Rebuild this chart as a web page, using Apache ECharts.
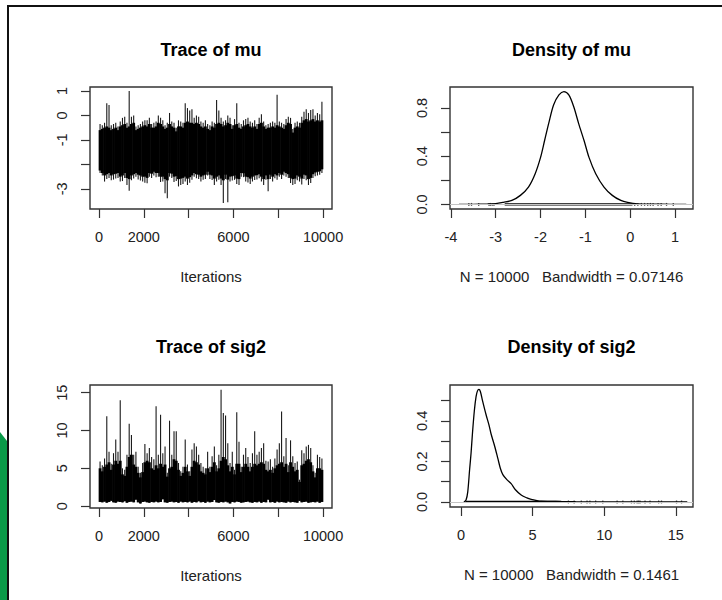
<!DOCTYPE html>
<html><head><meta charset="utf-8">
<script src="https://cdn.jsdelivr.net/npm/echarts@6/dist/echarts.min.js"></script>
<style>html,body{margin:0;padding:0;background:#fff}#c{width:722px;height:600px}</style>
</head><body><div id="c"></div>
<script>
// ---------- data ----------
const titles = ['Trace of mu', 'Density of mu', 'Trace of sig2', 'Density of sig2'];
const xLabels = ['Iterations', 'N = 10000   Bandwidth = 0.07146', 'Iterations', 'N = 10000   Bandwidth = 0.1461'];

// trace plots, per block of 100 iterations:
//   High/Low = extreme sampled values, CoreHigh/CoreLow = edges of the solid black bulk
const binSize = 100;
const muTraceHigh = [
 -0.35,-0.4,-0.3,0.5,0.43,-0.4,-0.35,-0.3,-0.45,-0.25,
 -0.1,-0.05,-0.3,1.0,-0.05,0.0,-0.45,-0.4,-0.35,-0.25,
 -0.2,-0.2,-0.1,-0.35,-0.3,-0.25,0.0,-0.1,-0.2,-0.4,
 -0.3,0.1,-0.25,-0.3,-0.5,-0.2,-0.25,-0.3,0.5,0.3,
 0.2,0.25,-0.1,0.0,-0.05,-0.25,-0.3,-0.2,-0.35,-0.4,
 -0.25,-0.3,0.63,0.2,-0.1,-0.25,-0.2,0.0,-0.1,-0.4,
 -0.15,0.5,-0.3,-0.35,-0.2,-0.15,-0.1,-0.25,-0.3,-0.2,
 -0.35,-0.1,0.05,-0.25,-0.4,-0.35,-0.3,-0.25,-0.3,0.84,
 -0.25,-0.3,-0.35,-0.15,-0.05,-0.1,-0.55,-0.3,-0.25,-0.3,
 -0.05,0.15,0.25,0.1,0.22,0.25,0.0,0.1,0.05,0.56];
const muTraceLow = [
 -2.35,-2.45,-2.7,-2.6,-2.55,-2.65,-2.62,-2.58,-2.55,-2.7,
 -2.68,-2.55,-2.84,-3.08,-2.65,-2.58,-2.5,-2.62,-2.66,-2.7,
 -2.75,-2.77,-2.5,-2.55,-2.45,-2.52,-2.5,-2.72,-2.7,-3.18,
 -3.38,-2.5,-2.55,-2.72,-2.68,-2.9,-2.84,-2.8,-2.7,-2.84,
 -2.75,-2.63,-2.5,-2.56,-2.6,-2.7,-2.63,-2.6,-2.45,-2.6,
 -2.64,-2.84,-2.7,-2.63,-2.84,-3.58,-2.6,-3.54,-2.7,-2.66,
 -2.63,-2.8,-2.84,-2.5,-2.52,-2.7,-2.74,-2.8,-2.7,-2.64,
 -2.62,-2.56,-2.7,-2.84,-2.63,-3.1,-2.6,-2.7,-2.56,-2.63,
 -2.5,-2.6,-2.45,-2.5,-2.55,-2.76,-2.84,-2.8,-2.65,-2.7,
 -2.82,-2.6,-2.65,-2.84,-2.76,-2.55,-2.48,-2.45,-2.42,-2.35];
const muTraceCoreHigh = [
 -0.6,-0.55,-0.5,-0.45,-0.5,-0.6,-0.55,-0.5,-0.6,-0.45,
 -0.4,-0.35,-0.5,-0.45,-0.35,-0.3,-0.6,-0.55,-0.5,-0.45,
 -0.4,-0.45,-0.35,-0.5,-0.5,-0.45,-0.3,-0.35,-0.45,-0.55,
 -0.5,-0.35,-0.45,-0.5,-0.65,-0.45,-0.45,-0.5,-0.3,-0.25,
 -0.3,-0.3,-0.35,-0.3,-0.35,-0.45,-0.5,-0.45,-0.55,-0.6,
 -0.45,-0.5,-0.35,-0.3,-0.35,-0.45,-0.4,-0.3,-0.35,-0.55,
 -0.4,-0.35,-0.5,-0.55,-0.45,-0.4,-0.35,-0.45,-0.5,-0.45,
 -0.55,-0.35,-0.3,-0.45,-0.55,-0.5,-0.5,-0.45,-0.5,-0.4,
 -0.45,-0.5,-0.55,-0.4,-0.3,-0.35,-0.7,-0.5,-0.45,-0.5,
 -0.3,-0.2,-0.15,-0.25,-0.2,-0.15,-0.25,-0.2,-0.25,-0.2];
const muTraceCoreLow = [
 -2.25,-2.35,-2.45,-2.4,-2.35,-2.45,-2.4,-2.38,-2.35,-2.5,
 -2.45,-2.35,-2.55,-2.6,-2.45,-2.4,-2.35,-2.42,-2.45,-2.5,
 -2.5,-2.55,-2.35,-2.38,-2.3,-2.35,-2.35,-2.5,-2.5,-2.6,
 -2.65,-2.35,-2.38,-2.5,-2.48,-2.6,-2.58,-2.55,-2.5,-2.58,
 -2.52,-2.45,-2.35,-2.4,-2.42,-2.5,-2.45,-2.42,-2.3,-2.42,
 -2.45,-2.58,-2.5,-2.45,-2.58,-2.65,-2.42,-2.62,-2.5,-2.48,
 -2.45,-2.58,-2.6,-2.35,-2.36,-2.5,-2.52,-2.58,-2.5,-2.45,
 -2.44,-2.4,-2.5,-2.6,-2.45,-2.6,-2.42,-2.5,-2.4,-2.45,
 -2.35,-2.42,-2.3,-2.35,-2.4,-2.55,-2.6,-2.58,-2.45,-2.5,
 -2.58,-2.42,-2.45,-2.6,-2.55,-2.4,-2.33,-2.3,-2.28,-2.2];
const sig2TraceHigh = [
 5.9,5.4,6.3,11.9,7.2,5.6,7.0,8.8,7.2,14.0,
 5.0,4.8,6.8,10.9,9.4,6.8,7.2,5.2,4.4,5.7,
 8.2,7.0,7.7,6.5,6.2,13.2,6.8,12.1,7.0,7.9,
 4.4,11.3,6.8,9.9,9.9,5.7,4.6,5.2,8.8,5.5,
 4.6,7.5,8.3,7.9,6.8,5.7,5.2,5.0,7.2,5.2,
 6.6,7.9,5.4,6.8,15.4,12.3,12.0,8.3,5.7,7.2,
 4.8,12.4,8.5,5.2,6.8,7.7,6.5,5.7,7.0,9.9,
 6.8,7.2,7.7,8.3,6.0,5.9,6.2,5.2,6.3,7.5,
 8.3,12.5,6.6,9.0,5.4,8.7,6.6,5.7,5.9,3.5,
 7.4,7.0,7.9,8.1,7.7,5.4,4.4,6.8,6.5,6.3];
const sig2TraceLow = [
 0.55,0.5,0.6,0.45,0.55,0.7,0.5,0.45,0.6,0.55,
 0.5,0.65,0.45,0.55,0.6,0.5,0.85,0.5,0.35,0.55,
 0.6,0.5,0.45,0.55,0.5,0.6,0.5,0.55,0.9,0.5,
 0.45,0.55,0.6,0.5,0.55,0.45,0.6,0.5,0.55,0.5,
 0.6,0.45,0.55,0.5,0.65,0.5,0.55,0.45,0.6,0.5,
 0.55,0.8,0.5,0.45,0.55,0.5,0.6,0.5,0.35,0.55,
 0.5,0.6,0.55,0.45,0.5,0.55,0.6,0.5,0.45,0.55,
 0.5,0.6,0.45,0.55,0.5,0.85,0.5,0.55,0.45,0.6,
 0.5,0.55,0.5,0.45,0.6,0.5,0.55,0.5,0.45,0.7,
 0.5,0.55,0.6,0.45,0.5,0.55,0.5,0.6,0.45,0.55];
const sig2TraceCoreHigh = [
 5.0,4.6,5.2,5.5,5.8,4.8,5.5,6.0,5.6,6.0,
 4.2,4.0,5.2,6.5,6.8,5.5,5.2,4.4,3.8,4.5,
 5.8,6.0,5.8,5.0,4.8,5.4,5.0,5.6,5.2,5.5,
 3.9,5.0,5.2,6.2,6.0,4.8,4.0,4.4,5.2,4.6,
 4.0,5.2,6.0,5.8,5.5,4.6,4.4,4.2,5.0,4.5,
 5.2,5.8,4.6,5.0,6.0,6.5,6.2,5.4,4.6,5.2,
 4.2,5.6,5.6,4.5,5.2,5.6,5.2,4.6,5.2,5.6,
 5.4,5.6,5.8,5.6,4.8,4.6,4.8,4.4,5.0,5.4,
 5.6,5.8,5.2,5.6,4.5,5.8,5.2,4.6,4.8,3.2,
 5.4,5.6,6.0,6.2,5.8,4.6,3.8,5.0,5.0,4.8];

// density curves
const muDensX = [-3.82,-3.5,-3.2,-3.0,-2.83,-2.64,-2.45,-2.27,-2.12,-2.0,-1.91,-1.82,-1.71,-1.59,-1.48,-1.37,-1.26,-1.15,-1.03,-0.92,-0.77,-0.585,-0.4,-0.21,-0.06,0.17,0.5,0.9,1.25];
const muDensY = [0.0005,0.001,0.003,0.006,0.017,0.033,0.075,0.144,0.255,0.39,0.53,0.67,0.825,0.908,0.936,0.908,0.81,0.67,0.53,0.39,0.255,0.144,0.075,0.033,0.017,0.005,0.002,0.001,0.0005];
const sig2DensX = [0.2,0.35,0.47,0.6,0.7,0.8,0.93,1.05,1.15,1.25,1.35,1.5,1.75,1.95,2.1,2.35,2.57,2.75,2.92,3.2,3.5,3.8,4.2,4.6,4.9,5.3,5.6,6.2,7.0,8.0,10.0,12.0,14.0,15.8];
const sig2DensY = [0.0,0.01,0.05,0.16,0.24,0.34,0.45,0.52,0.548,0.555,0.545,0.5,0.43,0.38,0.335,0.275,0.215,0.165,0.135,0.11,0.09,0.06,0.034,0.02,0.013,0.007,0.004,0.003,0.002,0.001,0.0005,0.0004,0.0002,0.0001];

// observation rugs: dense span and isolated observations
const muRugDense = [-2.8, 0.05];
const muRugSparse = [-3.6,-3.54,-3.38,-3.15,-3.12,-3.08,-3.04,0.1,0.17,0.25,0.32,0.39,0.45,0.51,0.62,0.69,0.81,0.96];
const sig2RugDense = [0.3, 7.0];
const sig2RugSparse = [7.5,7.9,8.4,8.8,9.0,9.4,9.9,10.9,11.3,11.9,12.1,12.3,12.4,12.5,12.85,13.2,13.8,14.0,15.05,15.4];

// ticks and labels
const traceXTicks = [0,2000,4000,6000,8000,10000];
const traceXLabels = [0,2000,6000,10000];
const muTraceYTicks = [-3,-2,-1,0,1];
const muTraceYLabels = [-3,-1,0,1];
const sig2TraceYTicks = [0,5,10,15];
const muDensXTicks = [-4,-3,-2,-1,0,1];
const muDensYTicks = [0,0.2,0.4,0.6,0.8];
const muDensYLabels = [0,0.4,0.8];
const sig2DensXTicks = [0,5,10,15];
const sig2DensYTicks = [0,0.1,0.2,0.3,0.4,0.5];
const sig2DensYLabels = [0,0.2,0.4];

// ---------- chart ----------
const FONT = "'Liberation Sans', Arial, Helvetica, sans-serif";
const grids = [
  {left: 90, top: 87, width: 242, height: 122},
  {left: 450, top: 87, width: 243, height: 122},
  {left: 90, top: 385, width: 242, height: 123},
  {left: 450, top: 385, width: 243, height: 122}
].map(g => Object.assign(g, {show: true, borderColor: '#333', borderWidth: 1.4, backgroundColor: 'transparent'}));

function axis(gi, min, max, ticks, labels, fmt, isY, name) {
  const a = {
    type: 'value', gridIndex: gi, min: min, max: max,
    position: isY ? 'left' : 'bottom',
    axisLine: {show: false, onZero: false}, splitLine: {show: false},
    axisTick: {show: true, inside: false, length: 9, lineStyle: {color: '#333', width: 1.2}, customValues: ticks},
    axisLabel: {customValues: labels, margin: 28, verticalAlign: 'middle', color: '#222',
      fontSize: 14.5, fontFamily: FONT, formatter: fmt}
  };
  if (isY) { a.axisLabel.rotate = 90; }
  if (name) {
    a.name = name; a.nameLocation = 'middle'; a.nameGap = 67;
    a.nameTextStyle = {fontSize: 15, color: '#222', fontFamily: FONT, verticalAlign: 'middle'};
  }
  return a;
}
const intFmt = v => String(v);
const oneDec = v => v.toFixed(1);

// one item per block of iterations: solid bulk + thin line to the extremes
function traceSeries(gi, lo, hi, coreLo, coreHi) {
  return {
    type: 'custom', xAxisIndex: gi, yAxisIndex: gi, silent: true, animation: false,
    data: lo.map((v, i) => [i * binSize, v, hi[i], coreLo[i], coreHi[i]]),
    encode: {x: 0, y: [1, 2]},
    renderItem: function (params, api) {
      const x0 = api.value(0);
      const a = api.coord([x0, api.value(4)]);
      const b = api.coord([x0 + binSize, api.value(3)]);
      const m1 = api.coord([x0 + binSize / 2, api.value(1)]);
      const m2 = api.coord([x0 + binSize / 2, api.value(2)]);
      return {
        type: 'group',
        children: [
          {type: 'line', shape: {x1: m1[0], y1: m1[1], x2: m2[0], y2: m2[1]},
            style: {stroke: '#1a1a1a', lineWidth: 1.1}},
          {type: 'rect', shape: {x: a[0] - 0.3, y: a[1], width: b[0] - a[0] + 0.6, height: b[1] - a[1]},
            style: {fill: '#000'}}
        ]
      };
    }
  };
}
const pairs = (xs, ys) => xs.map((x, i) => [x, ys[i]]);

const lineBase = {type: 'line', symbol: 'none', showSymbol: false, silent: true, animation: false};
function densSeries(gi, xs, ys, dense, sparse) {
  return [
    Object.assign({}, lineBase, {xAxisIndex: gi, yAxisIndex: gi, z: 1,
      data: dense.map(x => [x, 0]),
      lineStyle: {color: '#000', width: 2.2},
      markLine: {silent: true, symbol: ['none', 'none'], label: {show: false}, animation: false,
        lineStyle: {color: '#c4c4c4', type: 'solid', width: 1}, data: [{yAxis: 0}]}}),
    {type: 'scatter', xAxisIndex: gi, yAxisIndex: gi, z: 2, silent: true, animation: false,
      data: sparse.map(x => [x, 0]), symbol: 'rect', symbolSize: [1.3, 3], itemStyle: {color: '#333'}},
    Object.assign({}, lineBase, {xAxisIndex: gi, yAxisIndex: gi, z: 3,
      data: pairs(xs, ys), smooth: 0.3, lineStyle: {color: '#000', width: 1.3}})
  ];
}

const titleCenters = [[211, 50], [571.5, 50], [211, 347], [571.5, 347]];

const option = {
  backgroundColor: '#fff',
  animation: false,
  title: titles.map((t, i) => ({
    text: t, left: titleCenters[i][0], top: titleCenters[i][1], textAlign: 'center', textVerticalAlign: 'middle',
    padding: 0, textStyle: {fontSize: 18, fontWeight: 'bold', color: '#000', fontFamily: FONT}
  })),
  grid: grids,
  xAxis: [
    axis(0, -399, 10400, traceXTicks, traceXLabels, intFmt, false, xLabels[0]),
    axis(1, -4.02, 1.40, muDensXTicks, muDensXTicks, intFmt, false, xLabels[1]),
    axis(2, -399, 10400, traceXTicks, traceXLabels, intFmt, false, xLabels[2]),
    axis(3, -0.77, 16.2, sig2DensXTicks, sig2DensXTicks, intFmt, false, xLabels[3])
  ],
  yAxis: [
    axis(0, -3.82, 1.16, muTraceYTicks, muTraceYLabels, intFmt, true),
    axis(1, -0.038, 0.974, muDensYTicks, muDensYLabels, oneDec, true),
    axis(2, -0.25, 16.02, sig2TraceYTicks, sig2TraceYTicks, intFmt, true),
    axis(3, -0.025, 0.577, sig2DensYTicks, sig2DensYLabels, oneDec, true)
  ],
  series: [
    traceSeries(0, muTraceLow, muTraceHigh, muTraceCoreLow, muTraceCoreHigh),
    traceSeries(2, sig2TraceLow, sig2TraceHigh, sig2TraceLow, sig2TraceCoreHigh)
  ].concat(
    densSeries(1, muDensX, muDensY, muRugDense, muRugSparse),
    densSeries(3, sig2DensX, sig2DensY, sig2RugDense, sig2RugSparse)
  ),
  graphic: [
    {type: 'polygon', silent: true, shape: {points: [[0, 432], [7, 441], [7, 600], [0, 600]]}, style: {fill: '#0a9a48'}},
    {type: 'rect', silent: true, shape: {x: 7, y: 5, width: 715, height: 2}, style: {fill: '#111'}},
    {type: 'rect', silent: true, shape: {x: 7, y: 5, width: 2, height: 595}, style: {fill: '#111'}}
  ]
};

const chart = echarts.init(document.getElementById('c'), null, {renderer: 'svg'});
chart.setOption(option);
</script>
</body></html>
